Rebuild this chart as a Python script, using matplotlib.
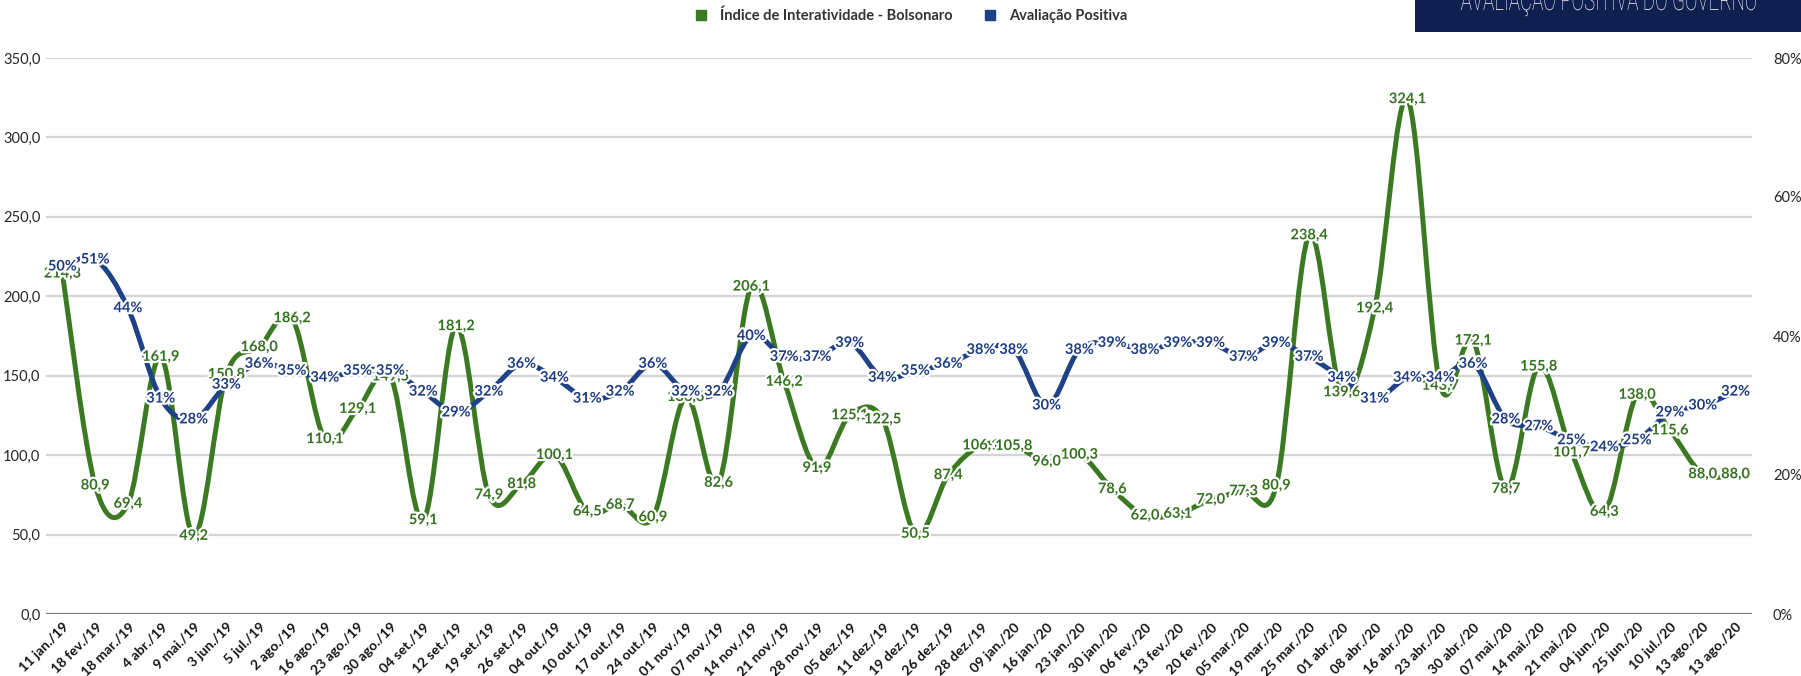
import matplotlib
matplotlib.use("Agg")
import matplotlib.pyplot as plt
import numpy as np
from matplotlib.path import Path
from matplotlib.patches import PathPatch, Rectangle
from matplotlib.textpath import TextPath
from matplotlib.font_manager import FontProperties
from matplotlib.transforms import Affine2D, IdentityTransform
from matplotlib.lines import Line2D
import matplotlib.patheffects as pe
from matplotlib.ticker import FuncFormatter

# ---------------- data ----------------
categories = [
    "11 jan./19", "18 fev./19", "18 mar./19", "4 abr./19", "9 mai./19", "3 jun./19",
    "5 jul./19", "2 ago./19", "16 ago./19", "23 ago./19", "30 ago./19", "04 set./19",
    "12 set./19", "19 set./19", "26 set./19", "04 out./19", "10 out./19", "17 out./19",
    "24 out./19", "01 nov./19", "07 nov./19", "14 nov./19", "21 nov./19", "28 nov./19",
    "05 dez./19", "11 dez./19", "19 dez./19", "26 dez./19", "28 dez./19", "09 jan./20",
    "16 jan./20", "23 jan./20", "30 jan./20", "06 fev./20", "13 fev./20", "20 fev./20",
    "05 mar./20", "19 mar./20", "25 mar./20", "01 abr./20", "08 abr./20", "16 abr./20",
    "23 abr./20", "30 abr./20", "07 mai./20", "14 mai./20", "21 mai./20", "04 jun./20",
    "25 jun./20", "10 jul./20", "13 ago./20", "13 ago./20",
]
interatividade = [
    214.3, 80.9, 69.4, 161.9, 49.2, 150.8, 168.0, 186.2, 110.1, 129.1, 149.5, 59.1,
    181.2, 74.9, 81.8, 100.1, 64.5, 68.7, 60.9, 136.6, 82.6, 206.1, 146.2, 91.9,
    125.1, 122.5, 50.5, 87.4, 106.1, 105.8, 96.0, 100.3, 78.6, 62.0, 63.1, 72.0,
    77.3, 80.9, 238.4, 139.6, 192.4, 324.1, 143.7, 172.1, 78.7, 155.8, 101.7, 64.3,
    138.0, 115.6, 88.0, 88.0,
]
avaliacao = [
    50, 51, 44, 31, 28, 33, 36, 35, 34, 35, 35, 32,
    29, 32, 36, 34, 31, 32, 36, 32, 32, 40, 37, 37,
    39, 34, 35, 36, 38, 38, 30, 38, 39, 38, 39, 39,
    37, 39, 37, 34, 31, 34, 34, 36, 28, 27, 25, 24,
    25, 29, 30, 32,
]
series_names = ["Índice de Interatividade - Bolsonaro", "Avaliação Positiva"]
left_ticks = [0, 50, 100, 150, 200, 250, 300, 350]
right_ticks = [0, 20, 40, 60, 80]
box_title = "AVALIAÇÃO POSITIVA DO GOVERNO"

GREEN = "#3b7a22"
BLUE = "#1f4186"
GREEN_TXT = "#357220"
BLUE_TXT = "#1d3c82"

W, H = 1801, 676
fig = plt.figure(figsize=(W / 100, H / 100), dpi=100)
FONT = "Lato"

ax = fig.add_axes([46 / W, (H - 614) / H, (1752 - 46) / W, (614 - 58) / H])
ax2 = ax.twinx()
ax2.set_position(ax.get_position())

n = len(categories)
x = np.arange(n)


def smooth_path(xs, ys):
    pts = np.column_stack([xs, ys]).astype(float)
    m = len(pts)
    verts = [pts[0]]
    codes = [Path.MOVETO]
    for i in range(m - 1):
        p0 = pts[max(i - 1, 0)]
        p1 = pts[i]
        p2 = pts[i + 1]
        p3 = pts[min(i + 2, m - 1)]
        c1 = p1 + (p2 - p0) / 6.0
        c2 = p2 - (p3 - p1) / 6.0
        verts += [c1, c2, p2]
        codes += [Path.CURVE4] * 3
    return Path(np.array(verts), codes)


ax.set_xlim(-0.5, n - 0.5)
ax.set_ylim(0, 350)
ax2.set_ylim(0, 80)

ax.add_patch(PathPatch(smooth_path(x, interatividade), fill=False, edgecolor=GREEN,
                       lw=3.6, capstyle="round", joinstyle="round", zorder=3))
ax2.add_patch(PathPatch(smooth_path(x, avaliacao), fill=False, edgecolor=BLUE,
                        lw=3.6, capstyle="round", joinstyle="round", zorder=3))

stroke = [pe.withStroke(linewidth=3.2, foreground="white")]
for xi, v in zip(x, interatividade):
    ax2.text(xi, v * 80 / 350, f"{v:.1f}".replace(".", ","), ha="center", va="center",
             color=GREEN_TXT, fontsize=10.5, fontweight="bold", family=FONT,
             path_effects=stroke, zorder=5, clip_on=False)
for xi, v in zip(x, avaliacao):
    ax2.text(xi, v, f"{v}%", ha="center", va="center",
             color=BLUE_TXT, fontsize=10.5, fontweight="bold", family=FONT,
             path_effects=stroke, zorder=6, clip_on=False)

# grid & axes styling
ax.set_yticks(left_ticks)
for t in left_ticks[1:]:
    ax.axhline(t, color="#d4d4d4", lw=1.6, zorder=0)
ax.axhline(0, color="#7f7f7f", lw=1.6, zorder=1)
for a in (ax, ax2):
    for s in a.spines.values():
        s.set_visible(False)
ax.yaxis.set_major_formatter(FuncFormatter(lambda v, p: f"{v:.1f}".replace(".", ",")))
ax.tick_params(axis="y", length=0, pad=4, labelsize=10.5, labelcolor="#262626")
ax2.set_yticks(right_ticks)
ax2.yaxis.set_major_formatter(FuncFormatter(lambda v, p: f"{int(v)}%"))
ax2.tick_params(axis="y", length=0, pad=15, labelsize=10.5, labelcolor="#262626")
for lab in ax.get_yticklabels() + ax2.get_yticklabels():
    lab.set_family(FONT)

ax.set_xticks(x)
ax.set_xticklabels(categories, rotation=45, ha="right", va="top", rotation_mode="anchor",
                   fontsize=10, fontweight="bold", family=FONT, color="#141414")
ax.tick_params(axis="x", length=0, pad=5)
ax2.set_zorder(ax.get_zorder() + 1)

# legend
handles = [Line2D([], [], marker="s", color=GREEN, linestyle="none", markersize=7),
           Line2D([], [], marker="s", color=BLUE, linestyle="none", markersize=7)]
fig.legend(handles, series_names, loc="center", bbox_to_anchor=(907 / W, 1 - 16 / H),
           ncol=2, frameon=False, handletextpad=0.3, columnspacing=1.6,
           prop=FontProperties(family=FONT, weight="bold", size=10.5), labelcolor="#333333")

# header box (cut off at the top)
fig.add_artist(Rectangle((1415, H - 32), W - 1415, 40, transform=IdentityTransform(),
                         facecolor="#0f1f4f", edgecolor="none"))
tp = TextPath((0, 0), box_title, size=100, prop=FontProperties(family="Roboto", weight="light"))
ext = tp.get_extents()
cap = TextPath((0, 0), "A", size=100, prop=FontProperties(family="Roboto", weight="light")).get_extents()
sx = 295 / ext.width
sy = 21 / cap.height
tr = Affine2D().translate(-ext.x0, 0).scale(sx, sy).translate(1461, H - 10)
fig.add_artist(PathPatch(tr.transform_path(tp), transform=IdentityTransform(),
                         facecolor="white", edgecolor="none"))

fig.savefig("out.png", dpi=100)
